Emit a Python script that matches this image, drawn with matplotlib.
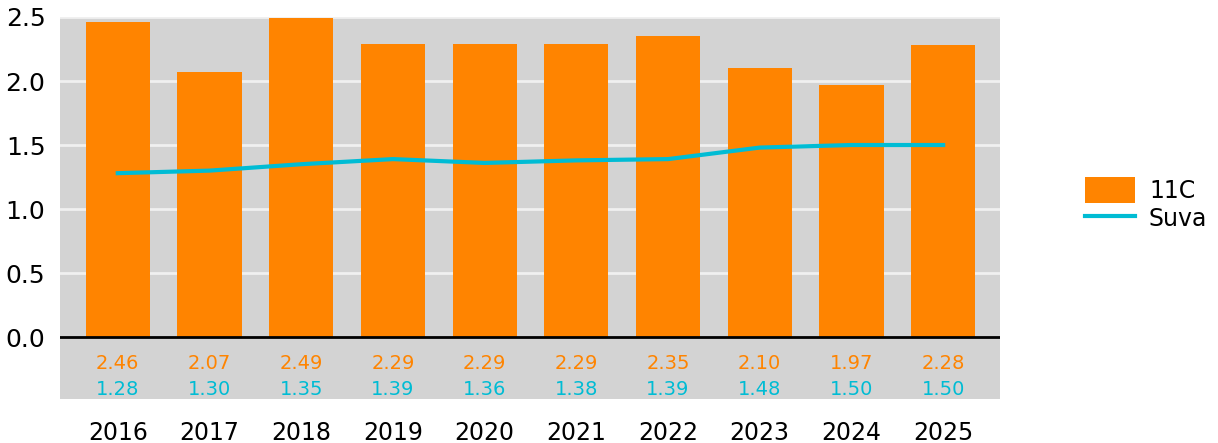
import matplotlib
matplotlib.use('Agg')
import matplotlib.pyplot as plt
import numpy as np

# data
years = ['2016', '2017', '2018', '2019', '2020', '2021', '2022', '2023', '2024', '2025']
val_11c = [2.46, 2.07, 2.49, 2.29, 2.29, 2.29, 2.35, 2.10, 1.97, 2.28]
val_suva = [1.28, 1.30, 1.35, 1.39, 1.36, 1.38, 1.39, 1.48, 1.50, 1.50]
yticks = [0.0, 0.5, 1.0, 1.5, 2.0, 2.5]

ORANGE = '#FF8400'
CYAN = '#00BCD4'
GREY = '#D3D3D3'

fig = plt.figure(figsize=(12.18, 4.43), dpi=100)
ax = fig.add_axes([60 / 1218, 44 / 443, 940 / 1218, 382 / 443])
ax.set_facecolor(GREY)

x = np.arange(len(years))
ax.set_xlim(-0.63, 9.62)
ax.set_ylim(-0.484, 2.5)

# gridlines (white) on the positive side only
for t in yticks[1:]:
    ax.axhline(t, color='#F0F0F0', lw=2, zorder=1)

bars = ax.bar(x, val_11c, width=0.7, color=ORANGE, zorder=2, label='11C')
line, = ax.plot(x, val_suva, color=CYAN, lw=3, zorder=3, label='Suva')
ax.axhline(0, color='black', lw=2, zorder=4)

# value table below the zero line
for i in range(len(years)):
    ax.text(x[i], -0.203, f'{val_11c[i]:.2f}', color=ORANGE, fontsize=14,
            ha='center', va='center')
    ax.text(x[i], -0.406, f'{val_suva[i]:.2f}', color=CYAN, fontsize=14,
            ha='center', va='center')

ax.set_yticks(yticks)
ax.set_yticklabels([f'{t:.1f}' for t in yticks], fontsize=18)
ax.set_xticks(x)
ax.set_xticklabels(years, fontsize=17)
ax.tick_params(axis='both', length=0)
ax.tick_params(axis='y', pad=10.5)
ax.tick_params(axis='x', pad=16)
for s in ax.spines.values():
    s.set_visible(False)

fig.legend([bars, line], ['11C', 'Suva'], loc='center left',
           bbox_to_anchor=(1064 / 1218, 1 - 204 / 443),
           frameon=False, fontsize=17, handlelength=2.1, handleheight=1.3,
           handletextpad=0.6, labelspacing=0.1)

fig.savefig('out.png', dpi=100)
